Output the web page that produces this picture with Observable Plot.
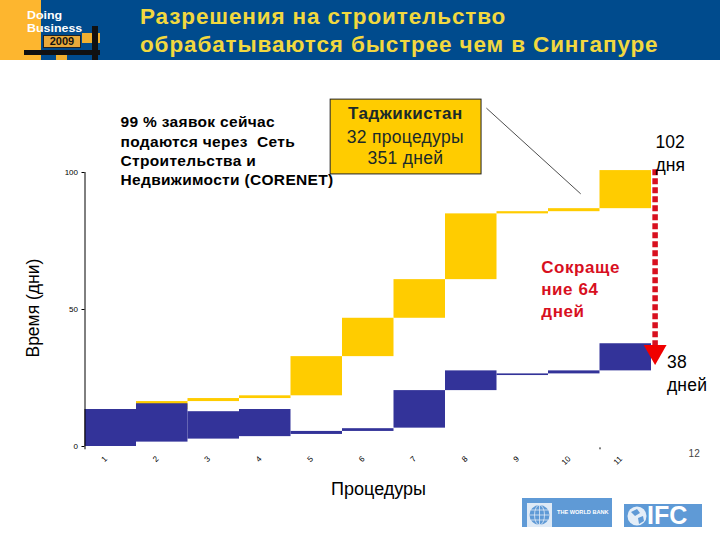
<!DOCTYPE html>
<html><head><meta charset="utf-8">
<script src="https://cdn.jsdelivr.net/npm/d3@7"></script>
<script src="https://cdn.jsdelivr.net/npm/@observablehq/plot@0.6"></script>
<style>
html,body{margin:0;padding:0;background:#fff;width:720px;height:540px;overflow:hidden;font-family:"Liberation Sans",Arial,sans-serif}
#page{position:relative;width:720px;height:540px;overflow:hidden}
#head{position:absolute;left:0;top:0;width:720px;height:60px;background:#004b8d;overflow:hidden}
#head div{position:absolute}
#title{left:140px;top:3px;color:#f2d83f;font-weight:bold;font-size:22.5px;line-height:28px;letter-spacing:.87px;white-space:nowrap}
#chart{position:absolute;left:0;top:60px}
.lg{position:absolute;background:#5f9ad6;color:#fff;font-weight:bold}
.lg svg{position:absolute}
.dbl{color:#fff;font:bold 11.5px/13px 'Liberation Sans',sans-serif;transform:scaleX(1.08);transform-origin:left center;white-space:nowrap}
</style></head><body>
<div id="page">
<div id="head">
 <div style="left:0;top:0;width:41px;height:60px;background:#fdb62f"></div>
 <div style="left:82px;top:33px;width:18px;height:10px;background:#f0b030"></div>
 <div style="left:56px;top:55px;width:11px;height:5px;background:#f0b030"></div>
 <div style="left:92px;top:26px;width:6px;height:34px;background:#111"></div>
 <div style="left:24px;top:50px;width:76px;height:5px;background:#111"></div>
 <div class="dbl" style="left:27px;top:8.5px">Doing</div>
 <div class="dbl" style="left:27px;top:21.5px">Business</div>
 <div style="left:43px;top:34.5px;width:38px;height:13px;background:#e8a93a;border:1px solid #222;box-sizing:border-box;color:#111;font:bold 11px/11px 'Liberation Sans',sans-serif;text-align:center">2009</div>
 <div id="title">Разрешения на строительство<br>обрабатываются быстрее чем в Сингапуре</div>
</div>
<div id="chart"></div>
<div class="lg" style="left:522px;top:498px;width:90px;height:29px">
 <svg width="30" height="29" style="left:5px;top:5px"><rect width="25" height="24" fill="#dfeaf6"/><circle cx="12.5" cy="12" r="10" fill="#5f9ad6"/><g stroke="#dfeaf6" fill="none" stroke-width=".8"><ellipse cx="12.5" cy="12" rx="5" ry="10"/><path d="M12.5 2v20M2.5 12h20M4 7h17M4 17h17"/></g></svg>
 <span style="position:absolute;left:35px;top:10px;font-size:5.6px;line-height:8px;white-space:nowrap">THE WORLD BANK</span>
</div>
<div class="lg" style="left:624px;top:504px;width:78px;height:23px">
 <svg width="22" height="23" style="left:3px;top:2px"><circle cx="10" cy="10" r="9.5" fill="#e4eef8"/><path d="M4 6l6-3 3 4-5 3zM11 12l5-2 1 5-5 3z" fill="#5f9ad6"/></svg>
 <span style="position:absolute;left:23px;top:0;font-size:25px;line-height:23px">IFC</span>
</div>
</div>
<script>
const procedures = [1,2,3,4,5,6,7,8,9,10,11];
const tajikStart = [0,13.5,16.4,17.5,18.5,32.8,46.8,60.9,84.9,85.7,86.8];
const tajikEnd   = [13.5,16.4,17.5,18.5,32.8,46.8,60.9,84.9,85.7,86.8,100.7];
const singStart  = [0,1.6,2.7,3.6,4.4,5.5,6.7,20.4,25.9,26.5,27.6];
const singEnd    = [13.5,15.6,12.7,13.5,5.5,6.5,20.4,27.6,26.5,27.6,37.5];
const yTicks = [0,50,100];

const bars = (s,e)=>procedures.map((p,i)=>({p,s:s[i],e:e[i]}));
const YEL="#ffcc00", BLUE="#333399", RED="#d8101f";
const T=(txt,x,y,o={})=>Plot.text([txt],{x:()=>x,y:()=>y,text:d=>d,fill:"#000",fontSize:15,textAnchor:"start",lineAnchor:"middle",...o});

const plot = Plot.plot({
  width:720,height:480,
  marginLeft:84.5,marginRight:69,marginTop:112,marginBottom:94,
  style:{fontFamily:"'Liberation Sans',Arial,sans-serif",background:"transparent",overflow:"visible"},
  x:{domain:[0.5,11.5]},
  y:{domain:[0,100]},
  marks:[
    Plot.rect(bars(tajikStart,tajikEnd),{x1:d=>d.p-.5,x2:d=>d.p+.5,y1:"s",y2:"e",fill:YEL}),
    Plot.rect(bars(singStart,singEnd),{x1:d=>d.p-.5,x2:d=>d.p+.5,y1:"s",y2:"e",fill:BLUE}),
    Plot.ruleX([0.5],{y1:-1.2,y2:100,stroke:"#000",strokeWidth:1}),
    Plot.axisY({ticks:yTicks,tickSize:3,tickPadding:4,fontSize:8,label:null,stroke:"#000"}),
    Plot.axisX({ticks:procedures,tickSize:0,tickPadding:9,tickRotate:-45,fontSize:8,label:null,dx:-5,dy:2}),
    Plot.ruleX([10.5],{y1:-0.5,y2:-1.2,stroke:"#000",strokeWidth:1}),
    T("99 % заявок сейчас\nподаются через  Сеть\nСтроительства и\nНедвижимости (CORENET)",1.19,108.2,{fontWeight:"bold",fontSize:15.5,lineHeight:1.25}),
    Plot.rect([0],{x1:()=>5.27,x2:()=>8.20,y1:()=>99.3,y2:()=>126.6,fill:YEL,stroke:"#222",strokeWidth:1}),
    T("Таджикистан",6.72,121.5,{fontWeight:"bold",fontSize:17,textAnchor:"middle",fill:"#1a2a2a"}),
    T("32 процедуры\n351 дней",6.72,109.3,{fontSize:17.5,textAnchor:"middle",lineHeight:1.2,fill:"#1a2a2a"}),
    Plot.line([[8.30,123.4],[10.12,92.3]],{stroke:"#000",strokeWidth:.7}),
    Plot.line([[11.57,101.2],[11.57,36]],{stroke:RED,strokeWidth:5.5,strokeDasharray:"6 3",strokeLinecap:"butt"}),
    Plot.dot([0],{x:()=>11.57,y:()=>34.6,symbol:"triangle",rotate:180,r:8.5,fill:"#f00000",stroke:"none"}),
    T("Сокраще\nние 64\nдней",9.36,57.7,{fontWeight:"bold",fontSize:17,lineHeight:1.29,fill:RED}),
    T("102\nдня",11.58,107.5,{fontSize:17.5,lineHeight:1.31}),
    T("38\nдней",11.8,27.1,{fontSize:17.5,lineHeight:1.31}),
    T("12",12.22,-2.55,{fontSize:10,fill:"#444"}),
    T("Процедуры",6.2,-15.7,{fontSize:18,textAnchor:"middle"}),
    T("Время (дни)",-0.5,50.5,{fontSize:17.5,textAnchor:"middle",rotate:-90})
  ]
});
const spacing = {"99 %":"0.32px","Таджи":"0.5px","32 пр":"0.3px","Сокра":"0.55px","38":"0.2px"};
plot.querySelectorAll("text").forEach(t=>{
  for (const k in spacing) if (t.textContent.startsWith(k)) t.setAttribute("letter-spacing",spacing[k]);
});
document.getElementById("chart").appendChild(plot);
</script>
</body></html>
